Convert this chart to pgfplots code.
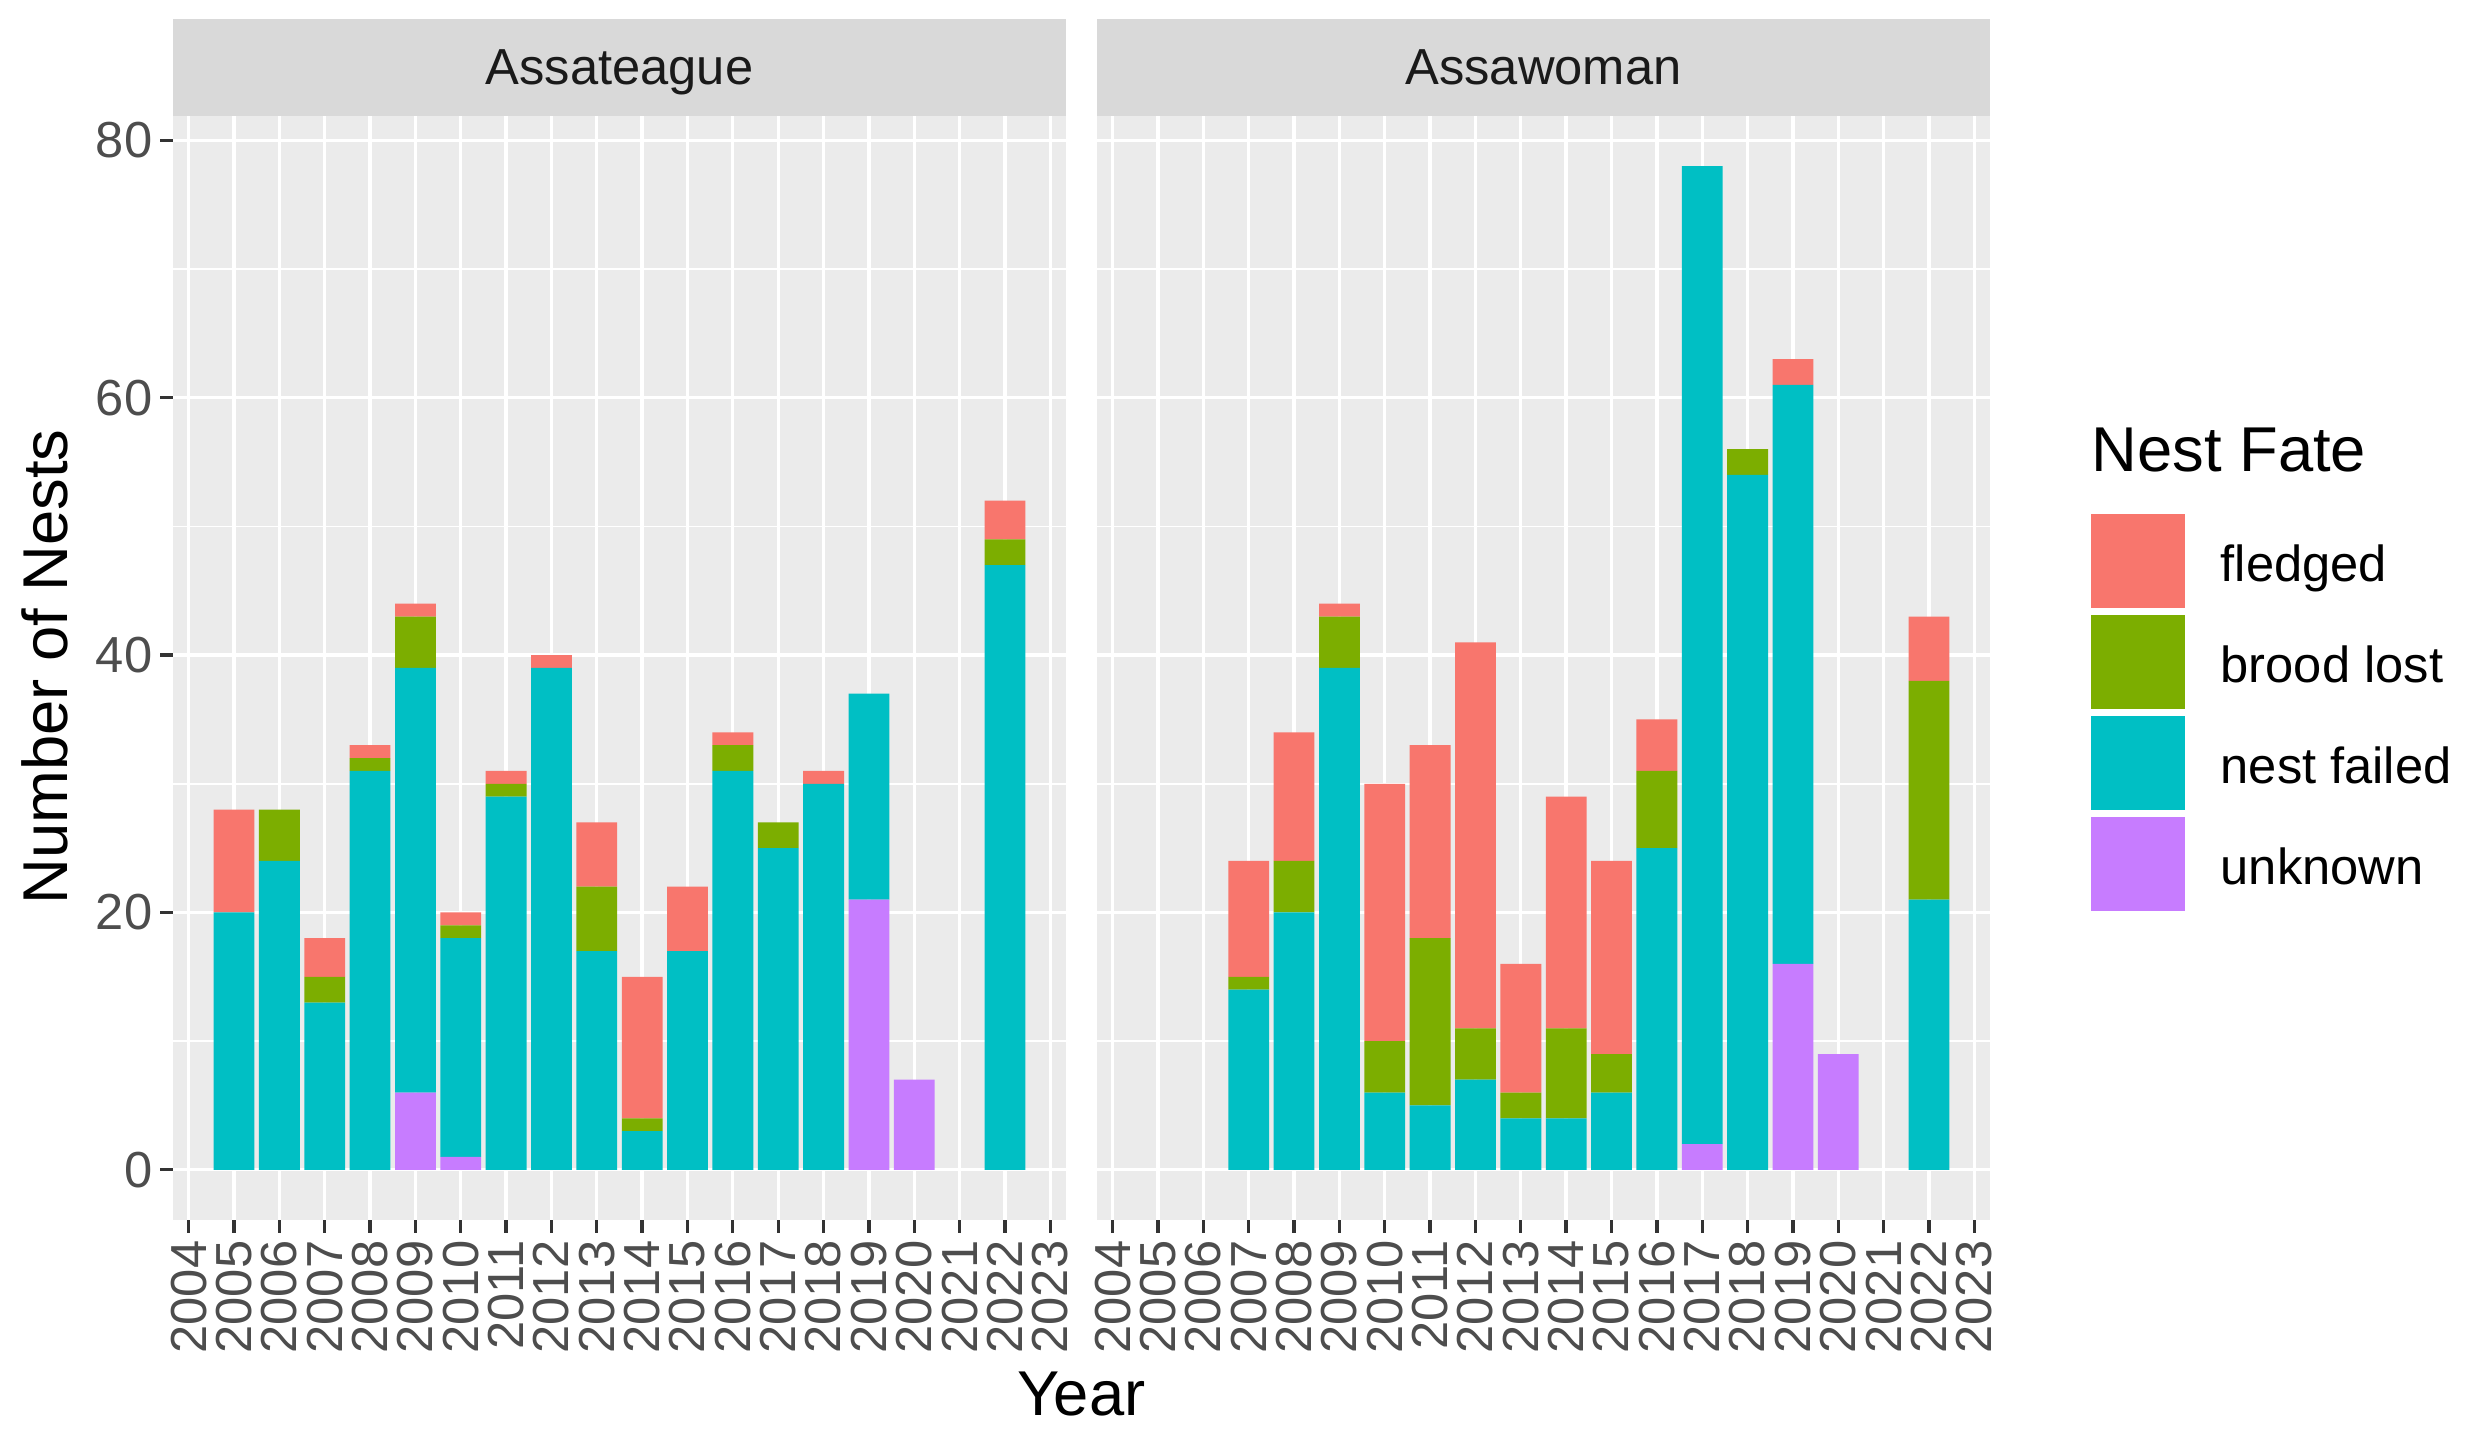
\documentclass[border=0pt]{standalone}
\usepackage{fontspec}
\setmainfont{Liberation Sans}
\usepackage{pgfplots}
\pgfplotsset{compat=1.18}
\usepackage{pgfplotstable}

\definecolor{grey92}{HTML}{EBEBEB}
\definecolor{grey85}{HTML}{D9D9D9}
\definecolor{grey30}{HTML}{4D4D4D}
\definecolor{grey20}{HTML}{333333}
\definecolor{grey10}{HTML}{1A1A1A}
\definecolor{cFled}{HTML}{F8766D}
\definecolor{cBrood}{HTML}{7CAE00}
\definecolor{cFail}{HTML}{00BFC4}
\definecolor{cUnk}{HTML}{C77CFF}

% Assateague
\pgfplotstableread{
year unk fail brood fled
2005 0 20 0 8
2006 0 24 4 0
2007 0 13 2 3
2008 0 31 1 1
2009 6 33 4 1
2010 1 17 1 1
2011 0 29 1 1
2012 0 39 0 1
2013 0 17 5 5
2014 0 3 1 11
2015 0 17 0 5
2016 0 31 2 1
2017 0 25 2 0
2018 0 30 0 1
2019 21 16 0 0
2020 7 0 0 0
2022 0 47 2 3
}\tA

% Assawoman
\pgfplotstableread{
year unk fail brood fled
2007 0 14 1 9
2008 0 20 4 10
2009 0 39 4 1
2010 0 6 4 20
2011 0 5 13 15
2012 0 7 4 30
2013 0 4 2 10
2014 0 4 7 18
2015 0 6 3 15
2016 0 25 6 4
2017 2 76 0 0
2018 0 54 2 0
2019 16 45 0 2
2020 9 0 0 0
2022 0 21 17 5
}\tB

\newcommand{\smallfont}{\fontsize{15.2bp}{18bp}\selectfont}
\newcommand{\bigfont}{\fontsize{19bp}{23bp}\selectfont}

\pgfplotsset{
  panel/.style={
    scale only axis, width=267.9bp, height=331.2bp, anchor=south west,
    xmin=2003.655, xmax=2023.345, ymin=-3.9, ymax=81.9,
    xtick={2004,...,2023}, ytick={0,20,...,80},
    minor x tick num=1, minor y tick num=1,
    grid=both,
    major grid style={white, line width=1bp},
    minor grid style={white, line width=0.5bp},
    axis background/.style={fill=grey92},
    axis line style={draw=none},
    tick align=outside, major tick length=3.8bp, minor tick length=0pt,
    xtick pos=bottom, ytick pos=left,
    tick style={grey20, line width=1bp},
    ticklabel style={font=\smallfont, text=grey30},
    /pgf/number format/assume math mode=true,
    /pgf/number format/1000 sep={},
    xticklabel style={rotate=90, anchor=east, inner sep=2.2bp},
    yticklabel style={anchor=east, inner sep=2.2bp},
    ybar stacked, bar width=0.9,
    every axis plot post/.append style={
      legend image code/.code={
        \fill[##1] (0bp,-14.1bp) rectangle (28.2bp,14.1bp);
        \path (0bp,-15.15bp) (38.9bp,15.15bp);
      }
    },
  }
}

\begin{document}
\begin{tikzpicture}
\path[use as bounding box] (0,0) rectangle (739.5bp,429bp);

\begin{axis}[panel, at={(51.9bp,63bp)}]
\addplot[fill=cUnk, draw=none] table[x=year,y=unk]{\tA};
\addplot[fill=cFail, draw=none] table[x=year,y=fail]{\tA};
\addplot[fill=cBrood, draw=none] table[x=year,y=brood]{\tA};
\addplot[fill=cFled, draw=none] table[x=year,y=fled]{\tA};
\end{axis}

\begin{axis}[panel, at={(329.1bp,63bp)}, yticklabels={}, ytick style={draw=none},
  reverse legend, legend cell align=left,
  legend style={at={(1.1131,0.6427)}, anchor=north west, draw=none, fill=none,
    inner sep=0pt, outer sep=0pt, row sep=0pt, font=\smallfont,
    cells={anchor=west}, nodes={inner sep=0pt, yshift=-1.4bp}}]
\addplot[fill=cUnk, draw=none] table[x=year,y=unk]{\tB};
\addlegendentry{unknown}
\addplot[fill=cFail, draw=none] table[x=year,y=fail]{\tB};
\addlegendentry{nest failed}
\addplot[fill=cBrood, draw=none] table[x=year,y=brood]{\tB};
\addlegendentry{brood lost}
\addplot[fill=cFled, draw=none] table[x=year,y=fled]{\tB};
\addlegendentry{fledged}
\end{axis}

% facet strips
\fill[grey85] (51.9bp,394.2bp) rectangle (319.8bp,423.3bp);
\fill[grey85] (329.1bp,394.2bp) rectangle (597bp,423.3bp);
\node[anchor=base, text=grey10, font=\smallfont, inner sep=0pt] at (185.85bp,403.5bp) {Assateague};
\node[anchor=base, text=grey10, font=\smallfont, inner sep=0pt] at (463.05bp,403.5bp) {Assawoman};

% axis titles
\node[anchor=base, font=\bigfont, inner sep=0pt] at (324.4bp,4.5bp) {Year};
\node[anchor=base, rotate=90, font=\bigfont, inner sep=0pt] at (20.4bp,228.9bp) {Number of Nests};

% legend title
\node[anchor=base west, font=\bigfont, inner sep=0pt] at (627.3bp,287.5bp) {Nest Fate};
\end{tikzpicture}
\end{document}
